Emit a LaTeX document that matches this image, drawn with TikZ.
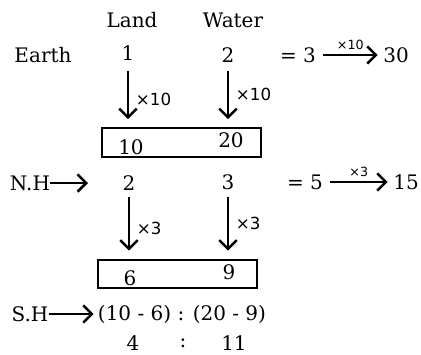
\documentclass[tikz,border=0pt]{standalone}
\usepackage{fontspec}
\setmainfont{DejaVu Serif}
\newfontfamily\multfont{DejaVu Sans}
\usetikzlibrary{arrows.meta, positioning}

\begin{document}
\begin{tikzpicture}[
    x=0.75pt, y=-0.75pt,
    txt/.style={inner sep=0pt, font=\fontsize{15}{17}\selectfont},
    mult/.style={inner sep=0pt, font=\multfont\fontsize{12.5}{14}\selectfont},
    smallmult/.style={inner sep=0pt, font=\multfont\fontsize{9.5}{11}\selectfont},
    numbox/.style={draw, line width=1.6pt, minimum width=119pt, minimum height=21.5pt, inner sep=0pt},
    arrow/.style={line width=1.9pt, -{Straight Barb[length=6.5pt, width=13pt, line width=1.9pt]}}
]
\useasboundingbox (0,0) rectangle (421,354);

% Headings
\node[txt] (land) at (132,20) {Land};
\node[txt] (water) at (233,20) {Water};

% Earth row
\node[txt] (earth) at (43,55) {Earth};
\node[txt] (eland) at (128,53) {1};
\node[txt] (ewater) at (228,55) {2};
\node[txt, inner xsep=5pt] (esum) at (298,55) {= 3};
\node[txt, inner xsep=4pt] (etotal) at (396,55) {30};
\draw[arrow] (esum) -- (etotal) node[midway, above=3pt, smallmult] {×10};

% First box
\node[numbox] (box1) at (181.5,142.5) {};
\node[txt] (tenth) at (131,147) {10};
\node[txt] (twenty) at (231,140) {20};
\draw[arrow, shorten >=6pt] ([yshift=-8pt]eland.south) -- (eland.south |- box1.north)
    node[midway, right=5pt, mult] {×10};
\draw[arrow, shorten >=6pt] ([yshift=-6pt]ewater.south) -- (ewater.south |- box1.north)
    node[midway, right=5pt, yshift=3pt, mult] {×10};

% N.H row
\node[txt] (nh) at (30,183) {N.H};
\coordinate (nhend) at (88,183);
\draw[arrow] (nh.east) -- (nhend);
\node[txt] (nland) at (129,183) {2};
\node[txt] (nwater) at (228,182) {3};
\node[txt, inner xsep=5pt] (nsum) at (305,182) {= 5};
\node[txt, inner xsep=4pt] (ntotal) at (406,182) {15};
\draw[arrow] (nsum) -- (ntotal) node[midway, above=3pt, smallmult] {×3};

% Second box
\node[numbox] (box2) at (177.5,274) {};
\node[txt] (six) at (130,278) {6};
\node[txt] (nine) at (229,272) {9};
\draw[arrow, shorten >=6pt] ([yshift=-5pt]nland.south) -- (nland.south |- box2.north)
    node[midway, right=5pt, mult] {×3};
\draw[arrow, shorten >=6pt] ([yshift=-5pt]nwater.south) -- (nwater.south |- box2.north)
    node[midway, right=5pt, yshift=3pt, mult] {×3};

% S.H row
\node[txt] (sh) at (30,314) {S.H};
\node[txt] (diff) at (182,314) {(10 - 6) : (20 - 9)};
\draw[arrow] (sh.east) -- ([xshift=-3pt]diff.west);

% Result
\node[txt] (rland) at (133,343) {4};
\node[txt] (rcolon) at (183,343) {:};
\node[txt] (rwater) at (234,343) {11};

\end{tikzpicture}
\end{document}
